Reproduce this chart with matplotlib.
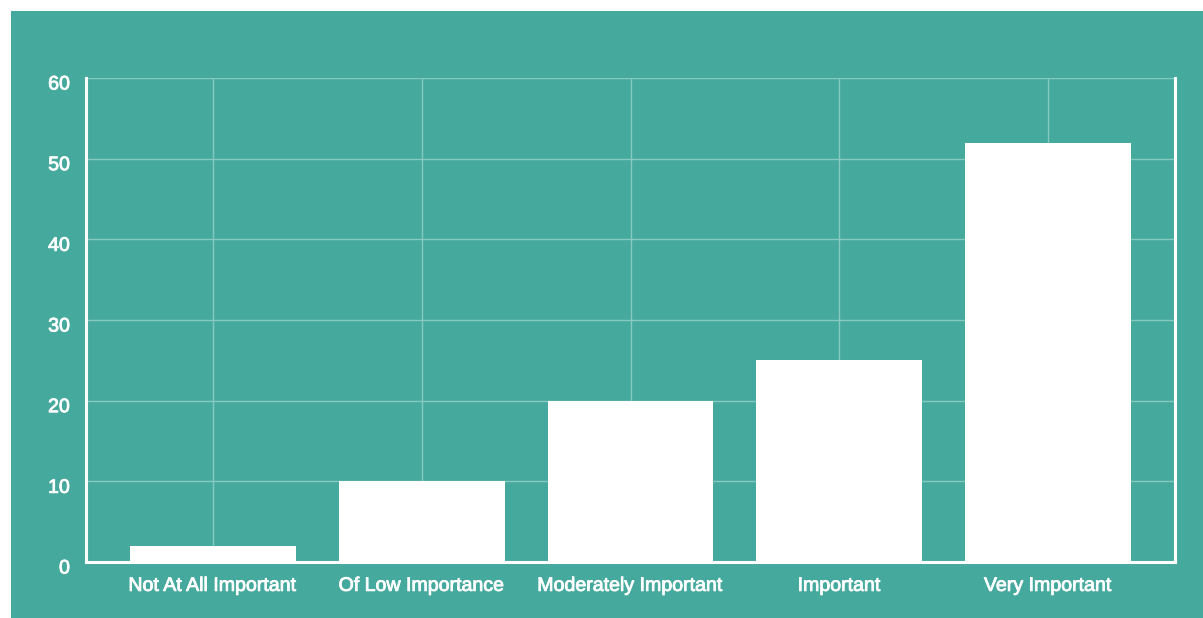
import matplotlib
matplotlib.use("Agg")
import matplotlib.pyplot as plt
import matplotlib.patheffects as pe
from matplotlib.patches import Rectangle
from matplotlib.transforms import ScaledTranslation

categories = ["Not At All Important", "Of Low Importance", "Moderately Important",
              "Important", "Very Important"]
counts = [2, 10, 20, 25, 52]
y_ticks = [0, 10, 20, 30, 40, 50, 60]

TEAL = "#46A99E"
GRID = "#86C9C1"

plt.rcParams["font.family"] = ["Liberation Sans", "DejaVu Sans"]

W, H = 1203, 618
fig = plt.figure(figsize=(W / 100, H / 100), dpi=100, facecolor="white")

# teal panel behind the chart
fig.patches.append(Rectangle((11 / W, 0), 1 - 11 / W, 1 - 11 / H,
                             transform=fig.transFigure, facecolor=TEAL,
                             edgecolor="none", zorder=-10))

ax = fig.add_axes([86 / W, (H - 562) / H, (1175 - 86) / W, (562 - 78) / H])
ax.set_zorder(1)
ax.set_facecolor(TEAL)

x = list(range(len(categories)))
ax.bar(x, counts, width=0.795, color="white", zorder=3)

ax.set_xlim(-0.608, len(categories) - 1 + 0.608)
ax.set_ylim(0, 60)
ax.set_yticks(y_ticks)
ax.set_xticks(x)
ax.set_xticklabels(categories)

ax.grid(True, color=GRID, linewidth=1.0, zorder=1)
ax.set_axisbelow(True)

for side in ("left", "right", "bottom"):
    ax.spines[side].set_color("white")
    ax.spines[side].set_linewidth(2.2)
    ax.spines[side].set_zorder(4)
ax.spines["top"].set_visible(False)

ax.tick_params(axis="both", length=0, colors="white", labelsize=14.1)
ax.tick_params(axis="y", pad=11.5)
ax.tick_params(axis="x", pad=10)

# slightly heavier label strokes
heavy = [pe.withStroke(linewidth=0.6, foreground="white")]
for lbl in ax.get_xticklabels() + ax.get_yticklabels():
    lbl.set_path_effects(heavy)

# value labels sit slightly below their gridlines
shift = ScaledTranslation(0, -4 / 100, fig.dpi_scale_trans)
for lbl in ax.get_yticklabels():
    lbl.set_transform(lbl.get_transform() + shift)

fig.savefig("out.png", dpi=100, facecolor="white")
